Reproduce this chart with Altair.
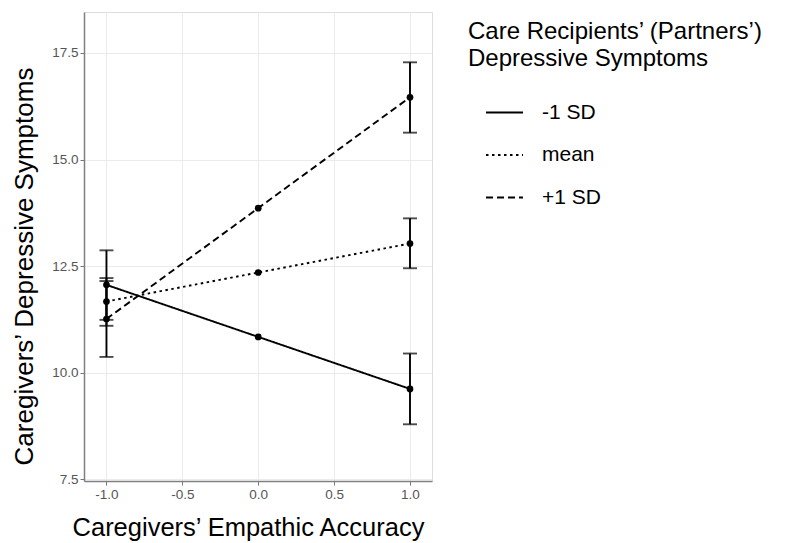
import altair as alt
import pandas as pd

# ---- data ----
x_levels = [-1.0, 0.0, 1.0]
groups = ["-1 SD", "mean", "+1 SD"]
low_sd_vals = [12.06, 10.84, 9.62]
mean_vals = [11.67, 12.35, 13.03]
high_sd_vals = [11.26, 13.86, 16.46]

# error bars only at x = -1 and x = 1
err_x = [-1.0, 1.0]
low_sd_lo = [11.24, 8.79]
low_sd_hi = [12.87, 10.45]
mean_lo = [11.10, 12.45]
mean_hi = [12.22, 13.62]
high_sd_lo = [10.37, 15.63]
high_sd_hi = [12.15, 17.28]

x_ticks = [-1.0, -0.5, 0.0, 0.5, 1.0]
y_ticks = [7.5, 10.0, 12.5, 15.0, 17.5]

# ---- tables ----
series = {"-1 SD": low_sd_vals, "mean": mean_vals, "+1 SD": high_sd_vals}
lines = pd.DataFrame(
    [{"x": x, "y": v, "g": g} for g, vals in series.items() for x, v in zip(x_levels, vals)]
)
bounds = {
    "-1 SD": (low_sd_lo, low_sd_hi),
    "mean": (mean_lo, mean_hi),
    "+1 SD": (high_sd_lo, high_sd_hi),
}
errs = pd.DataFrame(
    [
        {"x": x, "lo": lo, "hi": hi, "g": g}
        for g, (los, his) in bounds.items()
        for x, lo, hi in zip(err_x, los, his)
    ]
)

FONT = "Liberation Sans"
LABEL_EXPR = "datum.value < 0 ? '-' + format(-datum.value, '.1f') : format(datum.value, '.1f')"

xscale = alt.Scale(domain=[-1.148, 1.145], nice=False, zero=False)
yscale = alt.Scale(domain=[7.46, 18.46], nice=False, zero=False)

xaxis = alt.Axis(
    values=x_ticks, labelExpr=LABEL_EXPR, title="Caregivers’ Empathic Accuracy",
    titleFontSize=25.5, titleFont=FONT, titleColor="black", titleFontWeight="normal",
    titleX=164, titleY=54, titleAlign="center", titleBaseline="alphabetic",
    labelFontSize=13.5, labelColor="#555555", labelFont=FONT, labelPadding=2,
    tickColor="#777777", tickSize=4, domainColor="#808080", domainWidth=1.5,
    gridColor="#ebebeb", gridWidth=1,
)
yaxis = alt.Axis(
    values=y_ticks, labelExpr=LABEL_EXPR, title="Caregivers’ Depressive Symptoms",
    titleFontSize=26, titleFont=FONT, titleColor="black", titleFontWeight="normal",
    titleX=-52, titleY=254, titleAngle=-90, titleAlign="center", titleBaseline="alphabetic",
    labelFontSize=13.5, labelColor="#555555", labelFont=FONT, labelPadding=2,
    tickColor="#777777", tickSize=4, domainColor="#808080", domainWidth=1.5,
    gridColor="#ebebeb", gridWidth=1,
)

dash_scale = alt.Scale(domain=groups, range=[[1, 0], [2.5, 3.5], [7, 4]])

line_layer = alt.Chart(lines).mark_line(color="black", strokeWidth=1.9).encode(
    x=alt.X("x:Q", scale=xscale, axis=xaxis),
    y=alt.Y("y:Q", scale=yscale, axis=yaxis),
    strokeDash=alt.StrokeDash(
        "g:N", scale=dash_scale, sort=groups,
        legend=alt.Legend(
            title=["Care Recipients’ (Partners’)", "Depressive Symptoms"],
            orient="none", legendX=384, legendY=8,
            titleFontSize=24, titleFont=FONT, titleColor="black", titleFontWeight="normal",
            titleLineHeight=27, titlePadding=22, titleLimit=500,
            labelFontSize=21, labelFont=FONT, labelColor="black", labelOffset=18, labelLimit=300,
            symbolType="stroke", symbolSize=1369, symbolStrokeWidth=2,
            symbolStrokeColor="black", symbolOffset=17, rowPadding=12.5,
        ),
    ),
    detail="g:N",
)

point_layer = alt.Chart(lines).mark_point(filled=True, color="black", size=45, opacity=1).encode(
    x=alt.X("x:Q", scale=xscale),
    y=alt.Y("y:Q", scale=yscale),
)

rule_layer = alt.Chart(errs).mark_rule(color="black", strokeWidth=1.9).encode(
    x=alt.X("x:Q", scale=xscale),
    y=alt.Y("lo:Q", scale=yscale),
    y2="hi:Q",
)

cap_lo = alt.Chart(errs).mark_tick(color="black", thickness=1.9, size=14, orient="horizontal").encode(
    x=alt.X("x:Q", scale=xscale),
    y=alt.Y("lo:Q", scale=yscale),
)
cap_hi = alt.Chart(errs).mark_tick(color="black", thickness=1.9, size=14, orient="horizontal").encode(
    x=alt.X("x:Q", scale=xscale),
    y=alt.Y("hi:Q", scale=yscale),
)

chart = (
    alt.layer(rule_layer, cap_lo, cap_hi, line_layer, point_layer)
    .properties(
        width=348, height=469,
        autosize=alt.AutoSizeParams(type="none"),
        padding={"left": 76, "top": 4, "right": 349, "bottom": 62},
    )
    .configure_view(stroke="#c8c8c8", strokeWidth=1.2)
    .configure(font=FONT, background="white")
)

chart.save("out.html", embed_options={"renderer": "svg", "actions": False})
